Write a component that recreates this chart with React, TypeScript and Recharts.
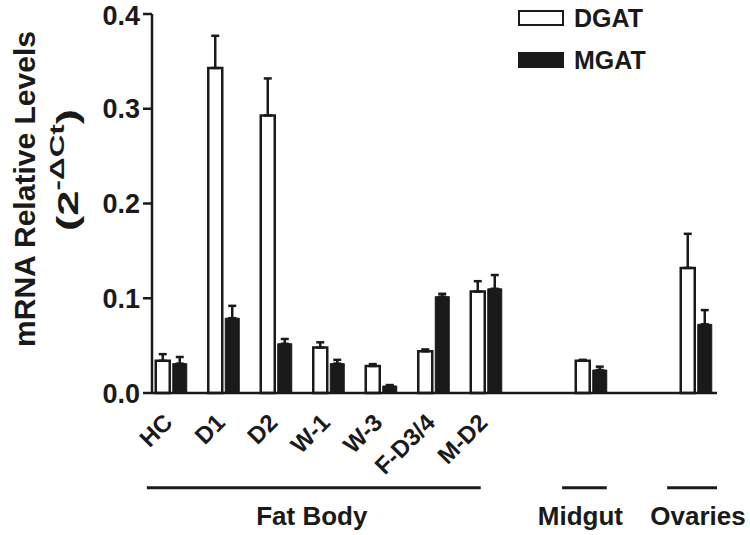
import { Bar, BarChart, ErrorBar, Legend, ReferenceLine, XAxis, YAxis } from "recharts";

// tissue slots along the x axis; "" marks an empty slot between groups
const tissues = ["HC", "D1", "D2", "W-1", "W-3", "F-D3/4", "M-D2", "", "Midgut", "", "Ovaries"];
const dgat = [0.034, 0.343, 0.293, 0.048, 0.0285, 0.044, 0.107, null, 0.034, null, 0.132];
const dgatSem = [0.007, 0.034, 0.039, 0.0055, 0.002, 0.002, 0.011, null, 0.001, null, 0.036];
const mgat = [0.031, 0.079, 0.052, 0.031, 0.0074, 0.1017, 0.11, null, 0.0243, null, 0.0725];
const mgatSem = [0.007, 0.013, 0.005, 0.004, 0.001, 0.003, 0.0145, null, 0.0035, null, 0.015];

const labelledSlots = [0, 1, 2, 3, 4, 5, 6];
const yTicks = [0, 0.1, 0.2, 0.3, 0.4];

// tissue groups drawn as bars under the axis
const groupNames = ["Fat Body", "Midgut", "Ovaries"];
const groupFrom = [-0.46, 7.45, 9.45];
const groupTo = [5.9, 8.3, 10.4];
const groupLabelShift = [-2, -4, 6];

const INK = "#1a1a1a";
const FONT = '"Liberation Sans", Arial, Helvetica, sans-serif';

const data = tissues
  .map((name, i) => ({
    slot: i,
    name,
    dgat: dgat[i],
    mgat: mgat[i],
    dgatErr: [0, dgatSem[i] ?? 0],
    mgatErr: [0, mgatSem[i] ?? 0],
  }))
  .filter((d) => d.dgat != null);

function TissueTick({ x, y, payload }: any) {
  const ax = x + 3;
  const ay = y + 31;
  return (
    <text
      x={ax}
      y={ay}
      textAnchor="end"
      transform={`rotate(-45, ${ax}, ${ay})`}
      fill={INK}
      fontSize={24}
      fontWeight={700}
    >
      {tissues[payload.value]}
    </text>
  );
}

function YTitle() {
  return (
    <g fill={INK} fontWeight={700}>
      <text
        transform="translate(35, 189) rotate(-90)"
        textAnchor="middle"
        fontSize={29}
        textLength={316}
        lengthAdjust="spacingAndGlyphs"
      >
        mRNA Relative Levels
      </text>
      <text
        transform="translate(78, 170) rotate(-90)"
        textAnchor="middle"
        fontSize={29}
        textLength={122}
        lengthAdjust="spacingAndGlyphs"
      >
        <tspan>(2</tspan>
        <tspan dy={-14} fontSize={20}>-ΔCt</tspan>
        <tspan dy={14}>)</tspan>
      </text>
    </g>
  );
}

function LegendBox({ payload }: any) {
  return (
    <div style={{ fontFamily: FONT }}>
      {(payload ?? []).map((entry: any) => (
        <div key={entry.value} style={{ display: "flex", alignItems: "center", height: 42 }}>
          <span
            style={{
              display: "inline-block",
              boxSizing: "border-box",
              width: 46,
              height: 16,
              border: `2px solid ${INK}`,
              background: entry.color,
            }}
          />
          <span style={{ marginLeft: 10, fontSize: 25, fontWeight: 700, color: INK }}>{entry.value}</span>
        </div>
      ))}
    </div>
  );
}

export default function App() {
  return (
    <div style={{ position: "absolute", left: 0, top: 0, fontFamily: FONT, background: "#fff" }}>
      <BarChart
        width={750}
        height={535}
        data={data}
        margin={{ top: 14, right: 33, bottom: 0, left: 0 }}
        barGap={3}
      >
        <XAxis
          dataKey="slot"
          type="number"
          domain={[-0.362, 10.4]}
          allowDataOverflow
          ticks={labelledSlots}
          interval={0}
          height={142}
          tickSize={0}
          tickMargin={0}
          tickLine={false}
          axisLine={{ stroke: INK, strokeWidth: 2.5 }}
          tick={<TissueTick />}
        />
        <YAxis
          type="number"
          domain={[0, 0.4]}
          ticks={yTicks}
          width={152}
          tickSize={9}
          tickMargin={3}
          tickFormatter={(v: number) => v.toFixed(1)}
          tick={{ fill: INK, fontSize: 27, fontWeight: 700 }}
          tickLine={{ stroke: INK, strokeWidth: 2.5 }}
          axisLine={{ stroke: INK, strokeWidth: 2.5 }}
          label={() => <YTitle />}
        />
        <Legend
          layout="vertical"
          align="center"
          verticalAlign="middle"
          wrapperStyle={{ top: -3, left: 518, width: 200 }}
          content={<LegendBox />}
        />
        <Bar dataKey="dgat" name="DGAT" fill="#ffffff" stroke={INK} strokeWidth={2.5} barSize={14} isAnimationActive={false}>
          <ErrorBar dataKey="dgatErr" direction="y" width={4} stroke={INK} strokeWidth={2.5} isAnimationActive={false} />
        </Bar>
        <Bar dataKey="mgat" name="MGAT" fill={INK} stroke={INK} strokeWidth={1} barSize={14} isAnimationActive={false}>
          <ErrorBar dataKey="mgatErr" direction="y" width={4} stroke={INK} strokeWidth={2.5} isAnimationActive={false} />
        </Bar>
        {groupNames.map((g, i) => (
          <ReferenceLine
            key={g}
            segment={[
              { x: groupFrom[i], y: -0.1 },
              { x: groupTo[i], y: -0.1 },
            ]}
            ifOverflow="visible"
            stroke={INK}
            strokeWidth={3}
            label={{
              value: g,
              position: "bottom",
              offset: 19,
              dx: groupLabelShift[i],
              fontSize: 26,
              fontWeight: 700,
              fill: INK,
            }}
          />
        ))}
      </BarChart>
    </div>
  );
}
